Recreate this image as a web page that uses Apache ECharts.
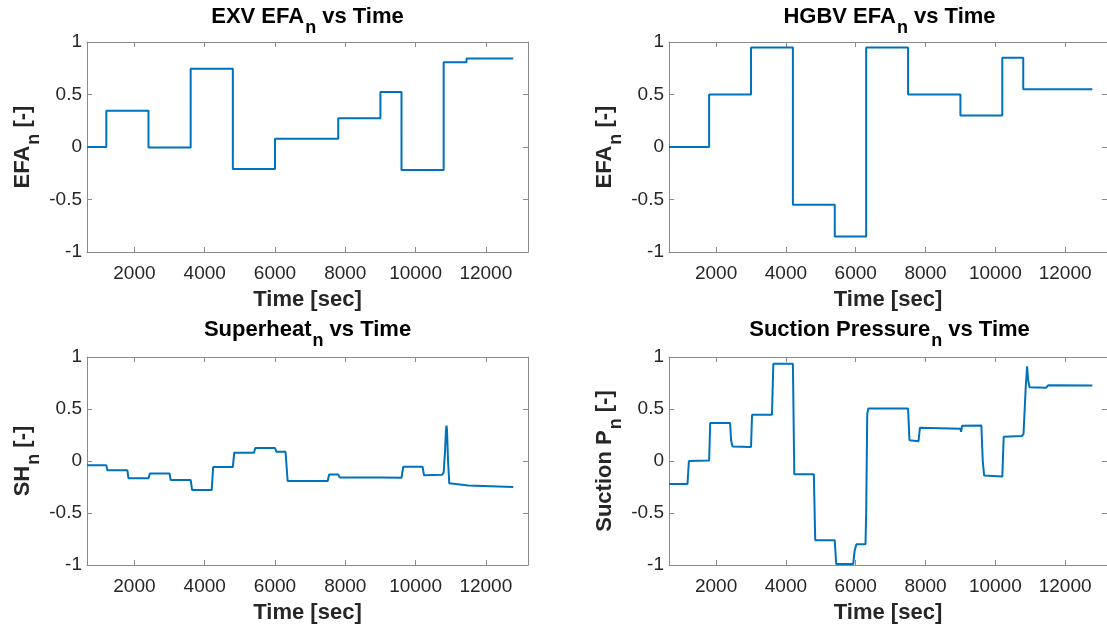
<!DOCTYPE html>
<html>
<head>
<meta charset="utf-8">
<script src="https://cdn.jsdelivr.net/npm/echarts@6/dist/echarts.min.js"></script>
<style>
  html, body { margin: 0; padding: 0; background: #fff; }
  #chart { width: 1107px; height: 630px; }
</style>
</head>
<body>
<div id="chart"></div>
<script>
// shared time axis
const timeTicks = [2000, 4000, 6000, 8000, 10000, 12000];
const timeMin = 650;
const timeMax = 13200;

// EXV EFA_n - piecewise constant, level held from each breakpoint
const exvTime  = [650, 1200, 2400, 3600, 4800, 6000, 7800, 9000, 9600, 10800, 11450, 12780];
const exvLevel = [0, 0.345, -0.005, 0.745, -0.21, 0.078, 0.275, 0.525, -0.22, 0.808, 0.843, 0.843];

// HGBV EFA_n - piecewise constant
const hgbvTime  = [650, 1800, 3000, 4200, 5400, 6300, 7500, 9000, 10200, 10800, 12780];
const hgbvLevel = [0, 0.5, 0.948, -0.55, -0.852, 0.948, 0.5, 0.3, 0.85, 0.55, 0.55];

// Superheat_n - measured response
const shTime = [650, 1200, 1230, 1800, 1830, 2400, 2440, 3000, 3030, 3600, 3640, 4200, 4240,
  4800, 4840, 5400, 5440, 6000, 6040, 6300, 6360, 7500, 7540, 7800, 7840, 9000, 9030, 9600,
  9650, 10200, 10240, 10760, 10800, 10840, 10865, 10880, 10895, 10925, 10960, 11000, 11500, 12780];
const shValue = [-0.042, -0.042, -0.09, -0.09, -0.166, -0.166, -0.12, -0.12, -0.182, -0.182,
  -0.278, -0.278, -0.058, -0.058, 0.08, 0.08, 0.125, 0.125, 0.088, 0.088, -0.192, -0.192,
  -0.13, -0.13, -0.158, -0.158, -0.162, -0.162, -0.055, -0.055, -0.138, -0.133, -0.11, 0.1,
  0.3, 0.34, 0.3, 0.0, -0.215, -0.222, -0.235, -0.25];

// Suction Pressure_n - measured response
const spTime = [650, 1180, 1220, 1800, 1830, 2400, 2430, 2470, 3000, 3030, 3600, 3640, 4200,
  4240, 4800, 4840, 5400, 5440, 5930, 5970, 6020, 6280, 6300, 6330, 6360, 7500, 7540, 7580,
  7800, 7840, 9000, 9020, 9050, 9600, 9640, 9680, 9720, 10200, 10240, 10760, 10808, 10870,
  10911, 10940, 10980, 11450, 11520, 12780];
const spValue = [-0.22, -0.22, 0.0, 0.005, 0.365, 0.365, 0.2, 0.14, 0.134, 0.445, 0.445, 0.935,
  0.935, -0.128, -0.128, -0.762, -0.762, -0.99, -0.99, -0.86, -0.8, -0.8, -0.5, 0.45, 0.505,
  0.505, 0.2, 0.19, 0.19, 0.32, 0.31, 0.28, 0.34, 0.342, 0.0, -0.14, -0.15, -0.15, 0.234, 0.24,
  0.26, 0.7, 0.91, 0.78, 0.71, 0.705, 0.728, 0.725];

const font = '"Liberation Sans", Arial, Helvetica, sans-serif';
const lineBlue = '#0072BD';
const frameGray = '#8a8a8a';
const darkText = '#262626';

const panels = [
  { title: ['EXV EFA', 'n', ' vs Time'], yName: ['EFA', 'n', ' [-]'], t: exvTime, v: exvLevel, step: 'end' },
  { title: ['HGBV EFA', 'n', ' vs Time'], yName: ['EFA', 'n', ' [-]'], t: hgbvTime, v: hgbvLevel, step: 'end' },
  { title: ['Superheat', 'n', ' vs Time'], yName: ['SH', 'n', ' [-]'], t: shTime, v: shValue, step: false },
  { title: ['Suction Pressure', 'n', ' vs Time'], yName: ['Suction P', 'n', ' [-]'], t: spTime, v: spValue, step: false }
];
const boxes = [
  { left: 87, top: 42, height: 210, titleTop: -3 },
  { left: 669, top: 42, height: 210, titleTop: -3 },
  { left: 87, top: 357, height: 208, titleTop: 310 },
  { left: 669, top: 357, height: 208, titleTop: 310 }
];
const boxWidth = 441;

function sub(parts) {
  return '{m|' + parts[0] + '}{s|' + parts[1] + '}{m|' + parts[2] + '}';
}
function richStyle(color) {
  return {
    m: { fontFamily: font, fontSize: 22, fontWeight: 'bold', color: color },
    s: { fontFamily: font, fontSize: 18, fontWeight: 'bold', color: color, padding: [22, 0, 0, 1] }
  };
}
function plainNumber(v) { return String(v); }

const grid = [], title = [], xAxis = [], yAxis = [], series = [];

panels.forEach(function (p, i) {
  const b = boxes[i];
  grid.push({ left: b.left, top: b.top, width: boxWidth, height: b.height });
  title.push({
    text: sub(p.title), left: b.left + boxWidth / 2, top: b.titleTop, textAlign: 'center', padding: 0,
    textStyle: { rich: richStyle('#000') }
  });
  // bottom + top x axes
  xAxis.push({
    type: 'value', gridIndex: i, min: timeMin, max: timeMax, position: 'bottom',
    name: 'Time [sec]', nameLocation: 'middle', nameGap: 37,
    nameTextStyle: { fontFamily: font, fontSize: 22, fontWeight: 'bold', color: darkText },
    axisLine: { onZero: false, lineStyle: { color: frameGray, width: 1 } },
    axisTick: { inside: true, length: 5, customValues: timeTicks, lineStyle: { color: frameGray } },
    axisLabel: { customValues: timeTicks, formatter: plainNumber, margin: 12, fontFamily: font, fontSize: 19, color: darkText },
    splitLine: { show: false }
  });
  xAxis.push({
    type: 'value', gridIndex: i, min: timeMin, max: timeMax, position: 'top',
    axisLine: { onZero: false, lineStyle: { color: frameGray, width: 1 } },
    axisTick: { inside: true, length: 5, customValues: timeTicks, lineStyle: { color: frameGray } },
    axisLabel: { show: false }, splitLine: { show: false }
  });
  // left + right y axes
  yAxis.push({
    type: 'value', gridIndex: i, min: -1, max: 1, interval: 0.5, position: 'left',
    name: sub(p.yName), nameLocation: 'middle', nameGap: 44,
    nameTextStyle: { rich: richStyle(darkText) },
    axisLine: { show: true, onZero: false, lineStyle: { color: frameGray, width: 1 } },
    axisTick: { show: true, inside: true, length: 5, lineStyle: { color: frameGray } },
    axisLabel: { margin: 5, formatter: plainNumber, fontFamily: font, fontSize: 19, color: darkText },
    splitLine: { show: false }
  });
  yAxis.push({
    type: 'value', gridIndex: i, min: -1, max: 1, interval: 0.5, position: 'right',
    axisLine: { show: true, onZero: false, lineStyle: { color: frameGray, width: 1 } },
    axisTick: { show: true, inside: true, length: 5, lineStyle: { color: frameGray } },
    axisLabel: { show: false }, splitLine: { show: false }
  });
  series.push({
    type: 'line', xAxisIndex: 2 * i, yAxisIndex: 2 * i,
    data: p.t.map(function (t, k) { return [t, p.v[k]]; }),
    step: p.step, symbol: 'none', showSymbol: false,
    lineStyle: { color: lineBlue, width: 2 }
  });
});

const chart = echarts.init(document.getElementById('chart'));
chart.setOption({
  animation: false,
  backgroundColor: '#fff',
  title: title,
  grid: grid,
  xAxis: xAxis,
  yAxis: yAxis,
  series: series
});
</script>
</body>
</html>
